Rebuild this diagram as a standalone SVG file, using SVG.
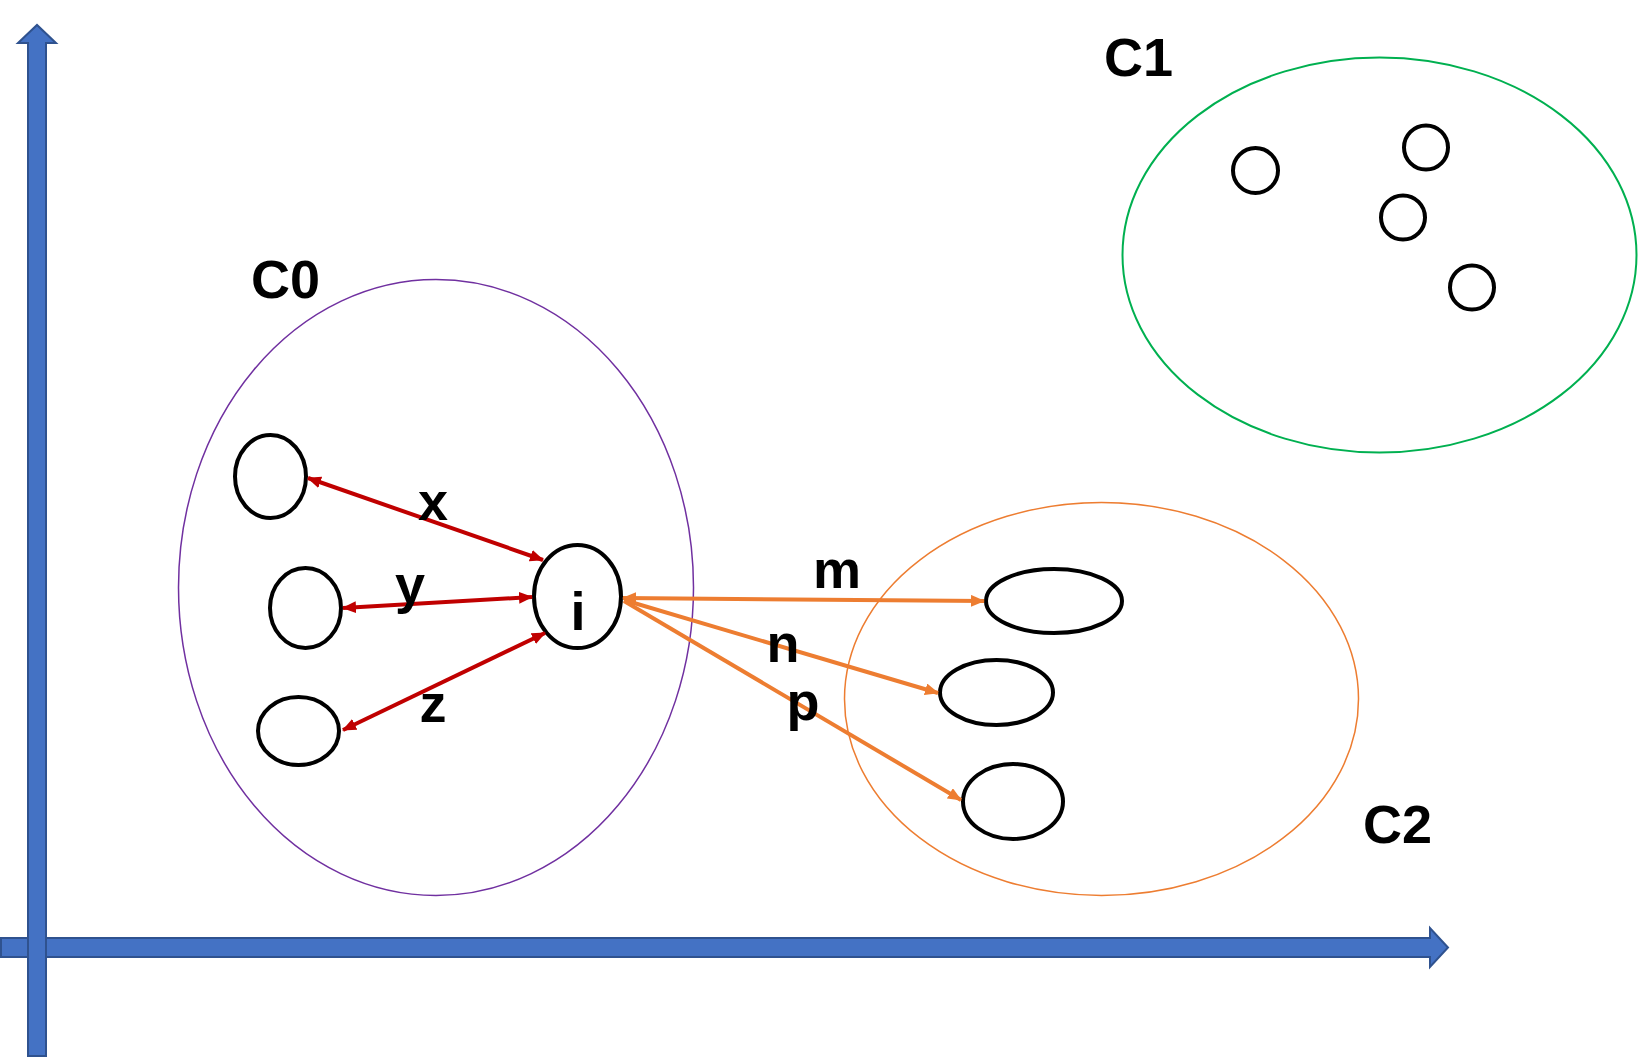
<svg xmlns="http://www.w3.org/2000/svg" width="1639" height="1057" viewBox="0 0 1639 1057">
<style>
.axis{fill:#4472C4;stroke:#2F528F;stroke-width:2}
.node{fill:#fff;stroke:#000;stroke-width:4}
.lbl{font-family:"Liberation Sans",Arial,sans-serif;font-weight:bold;font-size:54px;fill:#000}
.red{stroke:#C00000;stroke-width:4;fill:none;marker-start:url(#ar);marker-end:url(#ar)}
.org{stroke:#ED7D31;stroke-width:4;fill:none;marker-end:url(#ao)}
</style>
<defs>
<marker id="ar" viewBox="0 0 14 12" refX="13" refY="6" markerWidth="14" markerHeight="12" markerUnits="userSpaceOnUse" orient="auto-start-reverse"><path d="M0,0 L14,6 L0,12 z" fill="#C00000"/></marker>
<marker id="ao" viewBox="0 0 14 12" refX="13" refY="6" markerWidth="14" markerHeight="12" markerUnits="userSpaceOnUse" orient="auto-start-reverse"><path d="M0,0 L14,6 L0,12 z" fill="#ED7D31"/></marker>
</defs>
<g id="axes">
<polygon class="axis" points="1,938 1430,938 1430,928 1448,947.5 1430,967 1430,957 1,957"/>
<polygon class="axis" points="28,1056 28,43 18,43 37,25 56,43 46,43 46,1056"/>
</g>
<g id="C0">
<ellipse cx="436" cy="587.5" rx="257.5" ry="308" fill="none" stroke="#7030A0" stroke-width="1.5"/>
<text class="lbl" x="251" y="298">C0</text>
</g>
<g id="C1">
<ellipse cx="1379.5" cy="255" rx="257" ry="197.5" fill="none" stroke="#00B050" stroke-width="2"/>
<text class="lbl" x="1104" y="76">C1</text>
</g>
<g id="C2">
<ellipse cx="1101.5" cy="699" rx="257" ry="196.5" fill="none" stroke="#ED7D31" stroke-width="1.5"/>
<text class="lbl" x="1363" y="843">C2</text>
</g>
<g id="c0-nodes">
<ellipse class="node" cx="270.5" cy="476.5" rx="35.5" ry="41.5"/>
<ellipse class="node" cx="305.5" cy="608" rx="35.5" ry="40"/>
<ellipse class="node" cx="298.5" cy="731" rx="40.5" ry="34"/>
</g>
<g id="node-i">
<ellipse class="node" cx="577.5" cy="596.5" rx="43.5" ry="51.5"/>
<text class="lbl" x="578" y="630" text-anchor="middle">i</text>
</g>
<g id="c2-nodes">
<ellipse class="node" cx="1054" cy="601" rx="68" ry="32"/>
<ellipse class="node" cx="996.5" cy="692.5" rx="56.5" ry="32.5"/>
<ellipse class="node" cx="1013" cy="801.5" rx="50" ry="37.5"/>
</g>
<g id="c1-nodes">
<circle class="node" cx="1255.5" cy="170.5" r="22.5"/>
<circle class="node" cx="1426" cy="147.5" r="22"/>
<circle class="node" cx="1403" cy="217.5" r="22"/>
<circle class="node" cx="1472" cy="287.5" r="22"/>
</g>
<g id="connectors">
<line class="red" x1="308" y1="478" x2="543" y2="560"/>
<line class="red" x1="343" y1="608" x2="532" y2="597"/>
<line class="red" x1="343" y1="730" x2="545" y2="633"/>
<line class="org" x1="623" y1="598" x2="984" y2="601" style="marker-start:url(#ao)"/>
<line class="org" x1="624" y1="600" x2="938" y2="693"/>
<line class="org" x1="624" y1="601" x2="961" y2="800"/>
</g>
<g id="labels">
<text class="lbl" x="433" y="520" text-anchor="middle">x</text>
<text class="lbl" x="410" y="603" text-anchor="middle">y</text>
<text class="lbl" x="433" y="722" text-anchor="middle">z</text>
<text class="lbl" x="837" y="588" text-anchor="middle">m</text>
<text class="lbl" x="783" y="662" text-anchor="middle">n</text>
<text class="lbl" x="803" y="720" text-anchor="middle">p</text>
</g>
</svg>
